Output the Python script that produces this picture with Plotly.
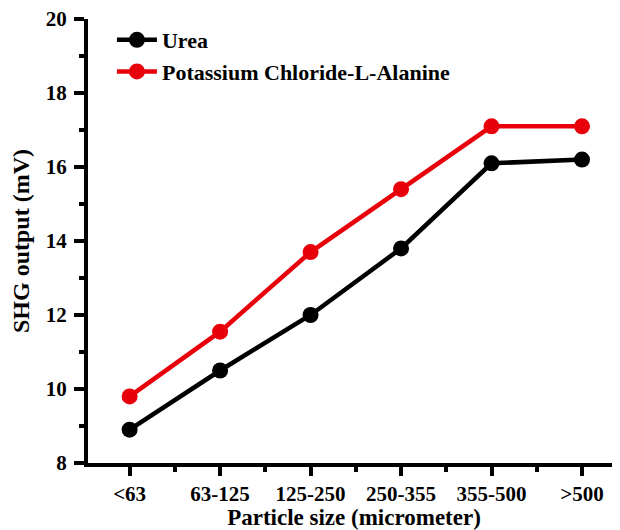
import plotly.graph_objects as go

categories = ["<63", "63-125", "125-250", "250-355", "355-500", ">500"]
urea = [8.9, 10.5, 12.0, 13.8, 16.1, 16.2]
kcl_la = [9.8, 11.55, 13.7, 15.4, 17.1, 17.1]
y_ticks = [8, 10, 12, 14, 16, 18, 20]

xpos = list(range(len(categories)))
font_family = "Liberation Serif, Times New Roman, serif"

fig = go.Figure()
fig.add_trace(go.Scatter(x=xpos, y=urea, mode="lines+markers", name="<b>Urea</b>",
                         line=dict(color="black", width=4.5),
                         marker=dict(color="black", size=16)))
fig.add_trace(go.Scatter(x=xpos, y=kcl_la, mode="lines+markers", name="<b>Potassium Chloride-L-Alanine</b>",
                         line=dict(color="#e8000b", width=4.5),
                         marker=dict(color="#e8000b", size=16)))

fig.update_layout(
    width=612, height=522,
    margin=dict(l=80, r=0, t=11, b=67, autoexpand=False),
    plot_bgcolor="white", paper_bgcolor="white",
    font=dict(family=font_family, color="black", size=21),
    showlegend=True,
    legend=dict(x=0.045, y=1.0, xanchor="left", yanchor="top",
                bgcolor="rgba(0,0,0,0)", font=dict(size=22), tracegroupgap=0,
                itemwidth=40),
    xaxis=dict(
        range=[-0.46, 5.42], showgrid=False, zeroline=False,
        showline=True, linecolor="black", linewidth=4,
        tickmode="array", tickvals=xpos,
        ticktext=["<b>%s</b>" % c for c in categories],
        ticks="outside", ticklen=9, tickwidth=4, tickcolor="black",
        ticklabeloverflow="allow",
        tickfont=dict(size=21),
        minor=dict(tickvals=[i + 0.5 for i in xpos[:-1]], ticks="outside",
                   ticklen=5, tickwidth=4, tickcolor="black"),
        title=dict(text="<b>Particle size (micrometer)</b>", font=dict(size=23), standoff=5),
    ),
    yaxis=dict(
        range=[8, 20], showgrid=False, zeroline=False,
        showline=True, linecolor="black", linewidth=4,
        tickmode="array", tickvals=y_ticks,
        ticktext=["<b>%d</b>" % v for v in y_ticks],
        ticks="outside", ticklen=10, tickwidth=4, tickcolor="black",
        ticklabelstandoff=3, ticklabeloverflow="allow",
        tickfont=dict(size=21),
        minor=dict(tickvals=[v + 1 for v in y_ticks[:-1]], ticks="outside",
                   ticklen=5, tickwidth=4, tickcolor="black"),
        title=dict(text="<b>SHG output (mV)</b>", font=dict(size=24), standoff=14),
    ),
)

fig.write_html("out.html")
